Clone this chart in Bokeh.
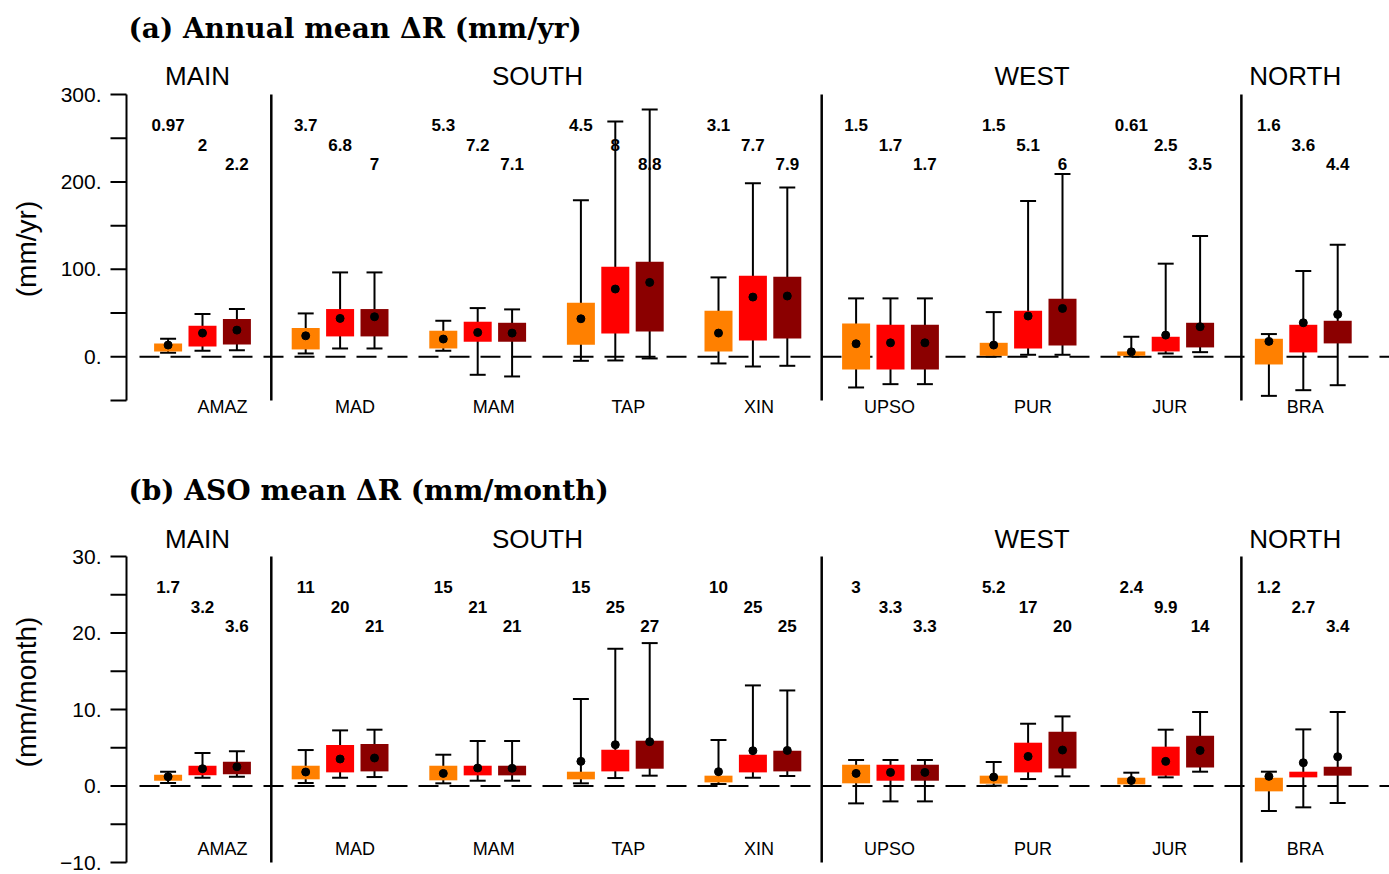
import numpy as np
from bokeh.plotting import figure
from bokeh.models import ColumnDataSource, Label, Range1d
from bokeh.layouts import column
from bokeh.embed import file_html
from bokeh.resources import INLINE
from bokeh.core.properties import value

# ---------------- data ----------------
regions = ["AMAZ", "MAD", "MAM", "TAP", "XIN", "UPSO", "PUR", "JUR", "BRA"]
groups = ["MAIN", "SOUTH", "WEST", "NORTH"]
group_members = [[0], [1, 2, 3, 4], [5, 6, 7], [8]]

# panel (a) annual mean dR (mm/yr): whisker low, box low, mean, box high, whisker high
a_orange_wlo = [4.6, 3.8, 6.9, -4.6, -7.6, -35.1, 0.3, 0.3, -44.7]
a_orange_blo = [6.1, 8.4, 9.5, 13.7, 6.1, -14.5, 1.1, 1.1, -8.8]
a_orange_mean = [13.4, 24.0, 20.3, 43.5, 27.1, 14.9, 13.4, 5.7, 17.6]
a_orange_bhi = [15.3, 32.9, 29.8, 61.8, 52.7, 38.2, 16.0, 6.1, 20.6]
a_orange_whi = [20.6, 49.6, 41.2, 179.0, 90.8, 66.8, 51.1, 22.9, 26.0]

a_red_wlo = [6.9, 9.5, -20.6, -4.2, -11.1, -31.3, 2.3, 3.8, -38.2]
a_red_blo = [11.8, 23.3, 17.2, 26.7, 18.7, -14.5, 9.5, 6.1, 5.0]
a_red_mean = [27.1, 43.9, 27.8, 77.5, 68.3, 16.0, 46.6, 24.8, 38.9]
a_red_bhi = [35.5, 54.6, 40.1, 103.0, 92.8, 36.6, 52.7, 22.9, 36.6]
a_red_whi = [48.9, 96.5, 55.7, 269.0, 198.5, 66.8, 178.2, 106.5, 98.1]

a_dark_wlo = [7.6, 9.5, -22.5, -1.9, -10.3, -31.3, 2.3, 5.3, -32.5]
a_dark_blo = [14.1, 23.3, 17.2, 29.0, 21.0, -14.5, 13.0, 10.7, 15.3]
a_dark_mean = [30.5, 45.8, 27.1, 85.1, 69.5, 16.0, 55.3, 34.4, 48.5]
a_dark_bhi = [43.2, 54.6, 38.9, 108.8, 91.6, 36.6, 66.4, 38.9, 41.2]
a_dark_whi = [54.6, 96.5, 54.2, 282.8, 193.5, 66.8, 209.2, 138.2, 128.2]

a_txt1 = ["0.97", "3.7", "5.3", "4.5", "3.1", "1.5", "1.5", "0.61", "1.6"]
a_txt2 = ["2", "6.8", "7.2", "8", "7.7", "1.7", "5.1", "2.5", "3.6"]
a_txt3 = ["2.2", "7", "7.1", "8.8", "7.9", "1.7", "6", "3.5", "4.4"]

a_major_ticks = [0, 100, 200, 300]
a_minor_ticks = [-50, 50, 150, 250]

# panel (b) ASO mean dR (mm/month)
b_orange_wlo = [0.39, 0.39, 0.35, 0.35, 0.26, -2.27, 0.04, 0.0, -3.27]
b_orange_blo = [0.69, 0.87, 0.74, 0.87, 0.47, 0.35, 0.30, 0.21, -0.70]
b_orange_mean = [1.22, 1.83, 1.65, 3.22, 1.87, 1.65, 1.17, 0.73, 1.26]
b_orange_bhi = [1.48, 2.65, 2.65, 1.87, 1.35, 2.78, 1.35, 1.08, 1.08]
b_orange_whi = [1.87, 4.70, 4.09, 11.37, 6.01, 3.40, 3.14, 1.74, 1.87]

b_red_wlo = [1.08, 1.08, 0.69, 1.04, 1.08, -2.01, 0.91, 1.13, -2.79]
b_red_blo = [1.39, 1.78, 1.39, 1.91, 1.78, 0.69, 1.78, 1.35, 1.13]
b_red_mean = [2.26, 3.53, 2.35, 5.40, 4.61, 1.78, 3.87, 3.22, 3.04]
b_red_bhi = [2.65, 5.36, 2.65, 4.74, 4.09, 2.78, 5.66, 5.14, 1.87]
b_red_whi = [4.31, 7.27, 5.88, 17.94, 13.15, 3.40, 8.14, 7.36, 7.40]

b_dark_wlo = [1.22, 1.17, 0.69, 1.35, 1.31, -2.01, 1.26, 1.87, -2.22]
b_dark_blo = [1.52, 1.91, 1.39, 2.26, 1.91, 0.69, 2.30, 2.43, 1.35]
b_dark_mean = [2.52, 3.66, 2.31, 5.79, 4.65, 1.78, 4.70, 4.65, 3.83]
b_dark_bhi = [3.18, 5.49, 2.65, 5.92, 4.61, 2.78, 7.10, 6.57, 2.52]
b_dark_whi = [4.53, 7.36, 5.88, 18.68, 12.49, 3.40, 9.10, 9.67, 9.67]

b_txt1 = ["1.7", "11", "15", "15", "10", "3", "5.2", "2.4", "1.2"]
b_txt2 = ["3.2", "20", "21", "25", "25", "3.3", "17", "9.9", "2.7"]
b_txt3 = ["3.6", "21", "21", "27", "25", "3.3", "20", "14", "3.4"]

b_major_ticks = [-10, 0, 10, 20, 30]
b_minor_ticks = [-5, 5, 15, 25]

# ---------------- layout / style ----------------
COLORS = ["#FF8000", "#FF0000", "#8B0000"]
OFFS = [-0.25, 0.0, 0.25]
BOXW = 0.2035
CAPW = 0.116
PXU = 137.6                      # px per x unit
X0_PAGE = 202.0                  # page x of first region
FIG_LEFT = 0.0
W = 1389
XR = ((FIG_LEFT - X0_PAGE) / PXU, (FIG_LEFT + W - X0_PAGE) / PXU)
AXIS_X = (126 - X0_PAGE) / PXU
TICK_LEN = 16 / PXU
LABEL_DX = [20, 15, 16, 13, 6, -1, 5, 4, 2]   # px shift of region names
GROUP_DX = [-5, -9, 4, -8]                     # px shift of group names
DIVIDERS = [0.5, 4.5, 7.55]
SANS = "Liberation Sans"


def px_to_y(page_y, frame_top, ytop, k):
    return ytop - (page_y - frame_top) / k


def make_panel(title, ylab, series, texts, ylim, major, minor, fig_top, height,
               frame_top, text_rows_px, title_px, group_px, region_px, ylab_px):
    ybot, ytop = ylim
    k = 306.0 / (ytop - ybot)         # px per y unit
    Y = lambda py: px_to_y(py, frame_top, ytop, k)
    yr = (Y(fig_top + height), Y(fig_top))

    p = figure(width=W, height=height, x_range=Range1d(*XR), y_range=Range1d(*yr),
               x_axis_type=None, y_axis_type=None, title=None,
               output_backend="svg", toolbar_location=None,
               min_border_left=0, min_border_right=0,
               min_border_top=0, min_border_bottom=0)
    p.outline_line_color = None
    p.background_fill_color = "white"
    p.border_fill_color = "white"

    # --- manual y axis ---
    p.segment(x0=[AXIS_X], y0=[ybot], x1=[AXIS_X], y1=[ytop], line_color="black",
              line_width=2)
    ticks = sorted(major + minor)
    p.segment(x0=[AXIS_X - TICK_LEN] * len(ticks), y0=ticks,
              x1=[AXIS_X] * len(ticks), y1=ticks, line_color="black", line_width=2)
    lab_min = yr[0] + 8.0 / k
    tick_src = ColumnDataSource(dict(
        x=[AXIS_X - (TICK_LEN + 9.0 / PXU)] * len(major),
        y=[max(t, lab_min) for t in major],
        t=[("\u2212" if t < 0 else "") + "%d." % abs(t) for t in major]))
    p.text(x="x", y="y", text="t", source=tick_src, text_font=value(SANS),
           text_font_size="21px", text_align="right", text_baseline="middle",
           text_color="black")

    # zero dashed line
    p.segment(x0=[(139 - X0_PAGE) / PXU], y0=[0], x1=[XR[1]], y1=[0],
              line_color="black", line_width=2, line_dash="20 11")

    # numbers at top
    for kk in range(3):
        src = ColumnDataSource(dict(x=[i + OFFS[kk] for i in range(len(regions))],
                                    y=[Y(text_rows_px[kk])] * len(regions),
                                    t=texts[kk]))
        p.text(x="x", y="y", text="t", source=src, text_font=value(SANS),
               text_font_style="bold", text_font_size="17px", text_align="center",
               text_baseline="middle", text_color="black")

    for kk, (wlo, blo, mean, bhi, whi) in enumerate(series):
        xs = [i + OFFS[kk] for i in range(len(regions))]
        src = ColumnDataSource(dict(
            x=xs, wlo=wlo, blo=blo, mean=mean, bhi=bhi, whi=whi,
            left=[x - BOXW / 2 for x in xs], right=[x + BOXW / 2 for x in xs],
            cl=[x - CAPW / 2 for x in xs], cr=[x + CAPW / 2 for x in xs]))
        p.segment(x0="x", y0="wlo", x1="x", y1="whi", source=src,
                  line_color="black", line_width=2)
        p.segment(x0="cl", y0="wlo", x1="cr", y1="wlo", source=src,
                  line_color="black", line_width=2)
        p.segment(x0="cl", y0="whi", x1="cr", y1="whi", source=src,
                  line_color="black", line_width=2)
        p.quad(left="left", right="right", bottom="blo", top="bhi", source=src,
               fill_color=COLORS[kk], line_color=None)
        p.scatter(x="x", y="mean", source=src, size=8, color="black")

    # group dividers
    p.segment(x0=DIVIDERS, y0=[ybot] * len(DIVIDERS), x1=DIVIDERS,
              y1=[ytop] * len(DIVIDERS), line_color="black", line_width=2.5)

    # region names
    rsrc = ColumnDataSource(dict(x=[i + LABEL_DX[i] / PXU for i in range(len(regions))],
                                 y=[Y(region_px)] * len(regions), t=regions))
    p.text(x="x", y="y", text="t", source=rsrc, text_font=value(SANS),
           text_font_size="18px", text_align="center", text_baseline="middle",
           text_color="black")

    # group names
    gsrc = ColumnDataSource(dict(
        x=[float(np.mean(m)) + GROUP_DX[j] / PXU for j, m in enumerate(group_members)],
        y=[Y(group_px)] * len(groups), t=groups))
    p.text(x="x", y="y", text="t", source=gsrc, text_font=value(SANS),
           text_font_size="26px", text_align="center", text_baseline="middle",
           text_color="black")

    # title
    p.add_layout(Label(x=(128 - X0_PAGE) / PXU, y=Y(title_px), text=title,
                       text_font="DejaVu Serif", text_font_style="bold",
                       text_font_size="28px", text_align="left",
                       text_baseline="middle", text_color="black"))
    # y label
    p.add_layout(Label(x=(26 - X0_PAGE) / PXU, y=Y(ylab_px), text=ylab,
                       text_font=SANS, text_font_size="28px", angle=np.pi / 2,
                       text_align="center", text_baseline="middle",
                       text_color="black"))
    return p


pa = make_panel("(a) Annual mean \u0394R (mm/yr)", "(mm/yr)",
                [(a_orange_wlo, a_orange_blo, a_orange_mean, a_orange_bhi, a_orange_whi),
                 (a_red_wlo, a_red_blo, a_red_mean, a_red_bhi, a_red_whi),
                 (a_dark_wlo, a_dark_blo, a_dark_mean, a_dark_bhi, a_dark_whi)],
                [a_txt1, a_txt2, a_txt3], (-50, 300), a_major_ticks, a_minor_ticks,
                0, 438, 94, [124, 144, 163.5], 27.5, 75, 406, 248.5)

pb = make_panel("(b) ASO mean \u0394R (mm/month)", "(mm/month)",
                [(b_orange_wlo, b_orange_blo, b_orange_mean, b_orange_bhi, b_orange_whi),
                 (b_red_wlo, b_red_blo, b_red_mean, b_red_bhi, b_red_whi),
                 (b_dark_wlo, b_dark_blo, b_dark_mean, b_dark_bhi, b_dark_whi)],
                [b_txt1, b_txt2, b_txt3], (-10, 30), b_major_ticks, b_minor_ticks,
                438, 436, 556, [586, 606, 625.5], 490, 538, 848.3, 691.5)

layout = column(pa, pb)
open("out.html", "w").write(file_html(layout, INLINE))
